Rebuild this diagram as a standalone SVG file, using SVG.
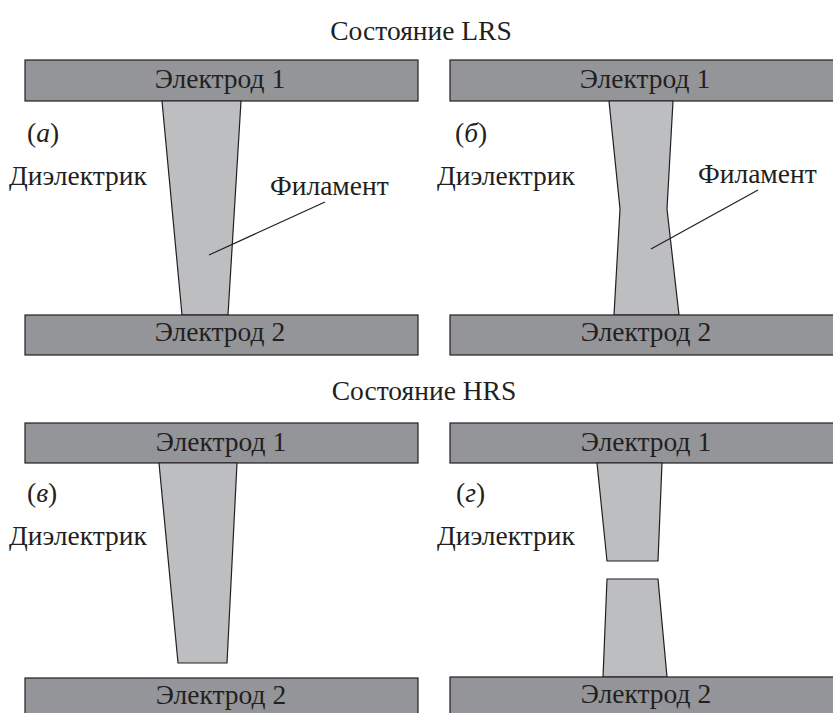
<svg xmlns="http://www.w3.org/2000/svg" width="833" height="713" viewBox="0 0 833 713">
<style>
text{font-family:"Liberation Serif","Times New Roman",serif;font-size:27.5px;fill:#231f20}
.el{fill:#939598;stroke:#231f20;stroke-width:1.2}
.fil{fill:#bcbec0;stroke:#231f20;stroke-width:1.2;stroke-linejoin:miter}
.ld{stroke:#231f20;stroke-width:1.2;fill:none}
.c{text-anchor:middle}
.it{font-style:italic}
</style>
<rect width="833" height="713" fill="#fff"/>
<text class="c" x="421" y="40">Состояние LRS</text>
<text class="c" x="424" y="400">Состояние HRS</text>

<g id="panel-a">
<rect class="el" x="25" y="60" width="393" height="41"/>
<text class="c" x="220" y="88">Электрод 1</text>
<polygon class="fil" points="162,101 241,101 228,315 182,315"/>
<rect class="el" x="25" y="315" width="393" height="40"/>
<text class="c" x="220" y="341">Электрод 2</text>
<text x="27" y="142">(<tspan class="it">а</tspan>)</text>
<text x="9" y="185">Диэлектрик</text>
<text x="270" y="195">Филамент</text>
</g>

<g id="panel-b">
<rect class="el" x="450" y="60" width="390" height="41"/>
<text class="c" x="645" y="88">Электрод 1</text>
<polygon class="fil" points="609,101 673,101 667,209 679,315 614,315 620,209"/>
<rect class="el" x="450" y="315" width="390" height="40"/>
<text class="c" x="646" y="341">Электрод 2</text>
<text x="455" y="142">(<tspan class="it">б</tspan>)</text>
<text x="437" y="185">Диэлектрик</text>
<text x="698" y="183">Филамент</text>
</g>

<g id="panel-c">
<rect class="el" x="25" y="423" width="393" height="40"/>
<text class="c" x="221" y="451">Электрод 1</text>
<polygon class="fil" points="159,463 237,463 227,663 178,663"/>
<rect class="el" x="25" y="678" width="393" height="40"/>
<text class="c" x="221" y="704">Электрод 2</text>
<text x="27" y="502">(<tspan class="it">в</tspan>)</text>
<text x="9" y="545">Диэлектрик</text>
</g>

<g id="panel-d">
<rect class="el" x="450" y="423" width="390" height="40"/>
<text class="c" x="646" y="451">Электрод 1</text>
<polygon class="fil" points="597,463 662,463 658,561 607,561"/>
<polygon class="fil" points="607,579 658,579 667,677 603,677"/>
<rect class="el" x="450" y="677" width="390" height="40"/>
<text class="c" x="646" y="703">Электрод 2</text>
<text x="456" y="502">(<tspan class="it">г</tspan>)</text>
<text x="437" y="545">Диэлектрик</text>
</g>

<g id="connectors">
<line class="ld" x1="325" y1="202" x2="209" y2="255"/>
<line class="ld" x1="758" y1="190" x2="651" y2="249"/>
</g>
</svg>
